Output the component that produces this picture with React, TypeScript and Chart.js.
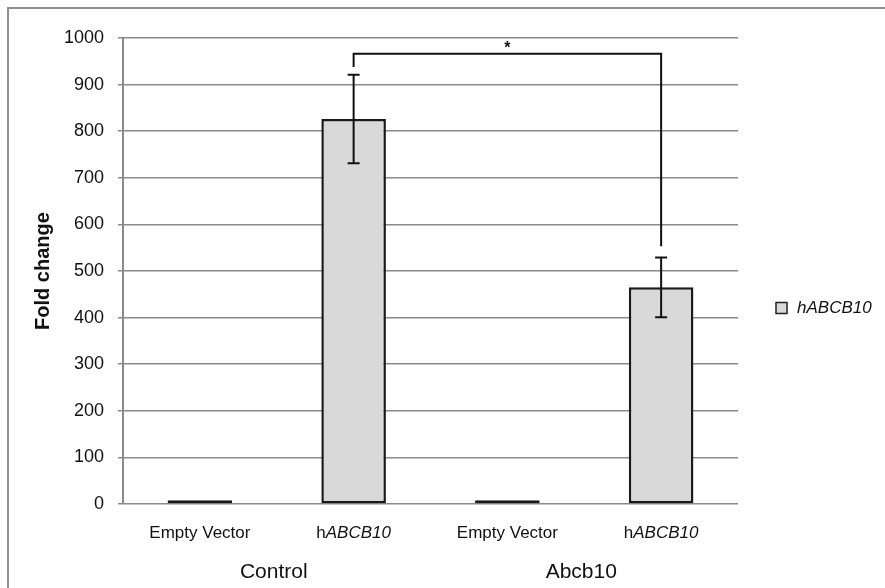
import React, { useEffect, useRef } from 'react';
import { Chart, registerables } from 'chart.js';

Chart.register(...registerables);

// ---- data ----
const categories = ['Empty Vector', 'hABCB10', 'Empty Vector', 'hABCB10'];
const groups = ['Control', 'Abcb10'];
const seriesName = 'hABCB10';
const foldChange = [8, 826, 8, 465];
const errorValues = [0, 95, 0, 64];
const yMin = 0;
const yMax = 1000;
const yStep = 100;
// significance bracket: between category indexes, heights in data units
const bracketIndexes = [1, 3];
const bracketHeights = [938, 966, 553]; // left end, top, right end
const bracketLabel = '*';

const FONT = '"Liberation Sans", Arial, sans-serif';

const customPlugin = {
  id: 'custom',
  beforeDraw(chart: any) {
    const { ctx, width, height } = chart;
    ctx.save();
    ctx.fillStyle = '#ffffff';
    ctx.fillRect(0, 0, width, height);
    ctx.strokeStyle = '#8f8f8f';
    ctx.lineWidth = 2;
    ctx.beginPath();
    ctx.moveTo(8, height);
    ctx.lineTo(8, 8);
    ctx.lineTo(width, 8);
    ctx.stroke();
    ctx.restore();
  },
  afterDatasetsDraw(chart: any) {
    const { ctx } = chart;
    const x = chart.scales.x;
    const y = chart.scales.y;
    ctx.save();
    // error bars
    ctx.strokeStyle = '#111';
    ctx.lineWidth = 2;
    foldChange.forEach((v, i) => {
      const e = errorValues[i];
      if (!e) return;
      const px = x.getPixelForValue(i);
      const yt = y.getPixelForValue(v + e);
      const yb = y.getPixelForValue(v - e);
      ctx.beginPath();
      ctx.moveTo(px, yt);
      ctx.lineTo(px, yb);
      ctx.moveTo(px - 6, yt);
      ctx.lineTo(px + 6, yt);
      ctx.moveTo(px - 6, yb);
      ctx.lineTo(px + 6, yb);
      ctx.stroke();
    });
    // bracket
    const x1 = x.getPixelForValue(bracketIndexes[0]);
    const x2 = x.getPixelForValue(bracketIndexes[1]);
    const yl = y.getPixelForValue(bracketHeights[0]);
    const ytop = y.getPixelForValue(bracketHeights[1]);
    const yr = y.getPixelForValue(bracketHeights[2]);
    ctx.beginPath();
    ctx.moveTo(x1, yl);
    ctx.lineTo(x1, ytop);
    ctx.lineTo(x2, ytop);
    ctx.lineTo(x2, yr);
    ctx.stroke();
    ctx.fillStyle = '#111';
    ctx.font = `bold 16px ${FONT}`;
    ctx.textAlign = 'center';
    ctx.textBaseline = 'middle';
    ctx.fillText(bracketLabel, (x1 + x2) / 2, ytop - 5);

    // x category labels (with italic gene name)
    const labelY = 533;
    ctx.textBaseline = 'middle';
    ctx.textAlign = 'left';
    categories.forEach((c, i) => {
      const px = x.getPixelForValue(i);
      if (c.startsWith('h') && c !== c.toLowerCase()) {
        const a = c.slice(0, 1);
        const b = c.slice(1);
        ctx.font = `17px ${FONT}`;
        const wa = ctx.measureText(a).width;
        ctx.font = `italic 17px ${FONT}`;
        const wb = ctx.measureText(b).width;
        const start = px - (wa + wb) / 2;
        ctx.font = `17px ${FONT}`;
        ctx.fillText(a, start, labelY);
        ctx.font = `italic 17px ${FONT}`;
        ctx.fillText(b, start + wa, labelY);
      } else {
        ctx.font = `17px ${FONT}`;
        const w = ctx.measureText(c).width;
        ctx.fillText(c, px - w / 2, labelY);
      }
    });
    // group labels
    ctx.font = `21px ${FONT}`;
    ctx.textAlign = 'center';
    groups.forEach((g, gi) => {
      const pa = x.getPixelForValue(gi * 2);
      const pb = x.getPixelForValue(gi * 2 + 1);
      ctx.fillText(g, (pa + pb) / 2 - 3, 572);
    });

    // legend
    const lx = 776;
    const ly = 308;
    ctx.fillStyle = '#d9d9d9';
    ctx.fillRect(lx, ly - 5.5, 11, 11);
    ctx.strokeStyle = '#222';
    ctx.lineWidth = 1.5;
    ctx.strokeRect(lx, ly - 5.5, 11, 11);
    ctx.fillStyle = '#111';
    ctx.textAlign = 'left';
    ctx.font = `italic 17px ${FONT}`;
    ctx.fillText(seriesName, 797, ly);
    ctx.restore();
  },
};

export default function App() {
  const ref = useRef<HTMLCanvasElement>(null);
  useEffect(() => {
    if (!ref.current) return;
    const chart = new Chart(ref.current, {
      type: 'bar',
      data: {
        labels: categories,
        datasets: [
          {
            label: seriesName,
            data: foldChange,
            backgroundColor: '#d9d9d9',
            borderColor: '#1a1a1a',
            borderWidth: 2.5,
            borderSkipped: false,
            barPercentage: 0.42,
            categoryPercentage: 1,
          },
        ],
      },
      options: {
        responsive: false,
        devicePixelRatio: 1,
        animation: false,
        layout: { padding: { left: 0, top: 38, right: 147, bottom: 0 } },
        plugins: {
          legend: { display: false },
          tooltip: { enabled: false },
        },
        scales: {
          x: {
            grid: { display: false },
            border: { display: false },
            ticks: { display: false },
            afterFit: (s: any) => {
              s.height = 84;
            },
          },
          y: {
            min: yMin,
            max: yMax,
            ticks: {
              stepSize: yStep,
              color: '#111',
              padding: 14,
              font: { family: FONT, size: 18 },
              callback: (v: any) => String(v),
            },
            grid: { color: '#8a8a8a', lineWidth: 1.5, tickLength: 5 },
            border: { display: true, color: '#8a8a8a', width: 2 },
            title: {
              display: true,
              text: 'Fold change',
              color: '#111',
              font: { family: FONT, size: 20, weight: 'bold' },
              padding: { top: 31, bottom: 0 },
            },
            afterFit: (s: any) => {
              s.width = 123;
            },
          },
        },
      },
      plugins: [customPlugin],
    });
    return () => chart.destroy();
  }, []);
  return (
    <div style={{ position: 'absolute', left: 0, top: 0, width: 885, height: 588, background: '#fff' }}>
      <canvas ref={ref} width={885} height={588} style={{ display: 'block' }} />
    </div>
  );
}
